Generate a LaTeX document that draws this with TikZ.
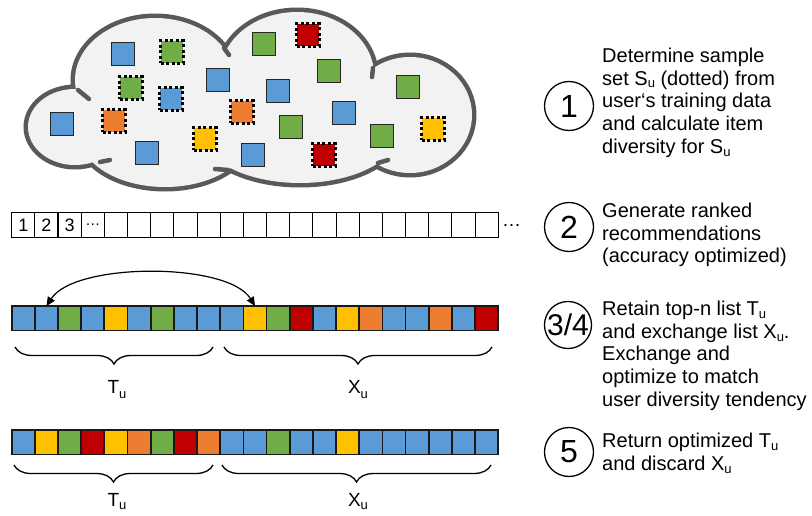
\documentclass[tikz,border=0pt]{standalone}
\usepackage{fontspec}
\setmainfont{Liberation Sans}
\usetikzlibrary{decorations.pathreplacing,arrows.meta}
\definecolor{cblue}{HTML}{5B9BD5}
\definecolor{cgreen}{HTML}{70AD47}
\definecolor{cyellow}{HTML}{FFC000}
\definecolor{corange}{HTML}{ED7D31}
\definecolor{cred}{HTML}{C00000}
\definecolor{cloudfill}{HTML}{F2F2F2}
\definecolor{cloudline}{HTML}{595959}
\newcommand{\us}{\raisebox{-3pt}{\fontsize{13}{13}\selectfont u}}
\newcommand{\lus}{\raisebox{-5pt}{\fontsize{13}{13}\selectfont u}}
\begin{document}
\begin{tikzpicture}[x=1pt,y=-1pt,
  cell/.style={draw=black!90, line width=1.8pt, minimum width=23.17pt, minimum height=24.5pt, inner sep=0pt, outer sep=0pt},
  plain/.style={draw=black, line width=1.1pt, minimum width=23.17pt, minimum height=24.5pt, inner sep=0pt, font=\fontsize{18}{18}\selectfont},
  item/.style={draw=black!85, line width=1.3pt, minimum size=23pt, inner sep=0pt},
  sample/.style={draw=black, line width=3pt, dash pattern=on 2.8pt off 2.7pt, minimum size=22.5pt, inner sep=0pt},
  stepnum/.style={circle, draw=black, line width=1.3pt, minimum size=49pt, inner sep=0pt, font=\fontsize{32}{32}\selectfont},
  desc/.style={anchor=north west, align=left, inner sep=0pt, font=\fontsize{20}{22.8}\selectfont},
  lbl/.style={font=\fontsize{19}{19}\selectfont, anchor=base, inner sep=0pt},
  brc/.style={decorate, decoration={brace, mirror, amplitude=17pt}, line width=1.3pt},
  cloudedge/.style={draw=cloudline, line width=9pt},
  tail/.style={draw=cloudline, line width=4.5pt, line cap=round},
  ]
\useasboundingbox (0,0) rectangle (812,516);

% ---------------- cloud ----------------
\def\lobes{75/127/47/38, 155/80/80/62, 297/75/77/63, 410/115/62/58, 300/130/100/53, 165/135/85/52}
\foreach \cx/\cy/\rx/\ry in \lobes
  \path[cloudedge] (\cx,\cy) ellipse [x radius=\rx, y radius=\ry];
\foreach \cx/\cy/\rx/\ry in \lobes
  \fill[cloudfill] (\cx,\cy) ellipse [x radius=\rx, y radius=\ry];
\draw[tail] (78,90) .. controls (83,95) .. (89,99);
\draw[tail] (224,48) .. controls (227,51) .. (229,55);
\draw[tail] (373,68) .. controls (373,72) .. (372,77);
\draw[tail] (378,163) .. controls (383,162) .. (388,160);
\draw[tail] (228,170) .. controls (222,170) .. (215,169);
\draw[tail] (100,162) .. controls (105,161) .. (110,160);

% items in the cloud
\foreach \x/\y/\c [count=\i] in {123/54/cblue, 62/124/cblue, 147/153/cblue, 218/80/cblue, 253/155/cblue,
   264/44/cgreen, 278/91/cblue, 291/127/cgreen, 329/71/cgreen, 344/113/cblue, 382/136/cgreen, 408/87/cgreen}
  \node[item, fill=\c] (it\i) at (\x,\y) {};
\foreach \x/\y/\c [count=\i] in {172/52/cgreen, 131/88/cgreen, 171/99/cblue, 114/121/corange, 205/139/cyellow,
   242/112/corange, 308/35/cred, 324/155/cred, 433/129/cyellow}
  \node[sample, fill=\c] (sm\i) at (\x,\y) {};

% ---------------- row 2: ranked list ----------------
\foreach \t [count=\i] in {1,2,3,{\fontsize{15}{15}\selectfont …},{},{},{},{},{},{},{},{},{},{},{},{},{},{},{},{},{}}
  \node[plain] (r\i) at ({11.7+(\i-0.5)*23.17},225) {\t};
\node[font=\fontsize{19}{19}\selectfont, inner sep=0pt, anchor=west] (more) at (r21.east) {\,…};

% ---------------- row 3/4 ----------------
\foreach \c [count=\i] in {cblue,cblue,cgreen,cblue,cyellow,cblue,cgreen,cblue,cblue,
   cblue,cyellow,cgreen,cred,cblue,cyellow,corange,cblue,cblue,corange,cblue,cred}
  \node[cell, fill=\c] (p\i) at ({11.7+(\i-0.5)*23.17},318.3) {};
\draw[{Triangle[length=9pt,width=8pt]}-{Triangle[length=9pt,width=8pt]}, line width=1.2pt]
  (p2.north) .. controls (75,262) and (228,262) .. (p11.north);
\coordinate (t3a) at (15,347); \coordinate (t3b) at (213,347);
\coordinate (x3a) at (224,347); \coordinate (x3b) at (492,347);
\draw[brc] (t3a) -- (t3b);
\draw[brc] (x3a) -- (x3b);
\node[lbl] (t3) at (117,393) {T\lus};
\node[lbl] (x3) at (358,393) {X\lus};

% ---------------- row 5 ----------------
\foreach \c [count=\i] in {cblue,cyellow,cgreen,cred,cyellow,corange,cgreen,cred,corange,
   cblue,cblue,cgreen,cblue,cblue,cyellow,cblue,cblue,cblue,cblue,cblue,cblue}
  \node[cell, fill=\c] (q\i) at ({11.7+(\i-0.5)*23.17},442.3) {};
\coordinate (t5a) at (14,465); \coordinate (t5b) at (213,465);
\coordinate (x5a) at (222,465); \coordinate (x5b) at (491,465);
\draw[brc] (t5a) -- (t5b);
\draw[brc] (x5a) -- (x5b);
\node[lbl] (t5) at (117,506) {T\us};
\node[lbl] (x5) at (358,506) {X\us};

% ---------------- steps ----------------
\node[stepnum] (s1) at (569,106) {1};
\node[stepnum] (s2) at (569,227) {2};
\node[stepnum, minimum size=47pt, font=\fontsize{30}{30}\selectfont] (s34) at (568,325) {3/4};
\node[stepnum] (s5) at (569,452) {5};

\node[desc] (d1) at (602,47) {\rule{0pt}{15pt}Determine sample\\set S\us{} (dotted) from\\user‘s training data\\and calculate item\\diversity for S\us};
\node[desc] (d2) at (602,202) {\rule{0pt}{15pt}Generate ranked\\recommendations\\(accuracy optimized)};
\node[desc] (d34) at (602,300) {\rule{0pt}{15pt}Retain top-n list T\us\\and exchange list X\us.\\Exchange and\\optimize to match\\user diversity tendency};
\node[desc] (d5) at (602,432) {\rule{0pt}{15pt}Return optimized T\us\\and discard X\us};
\end{tikzpicture}
\end{document}
